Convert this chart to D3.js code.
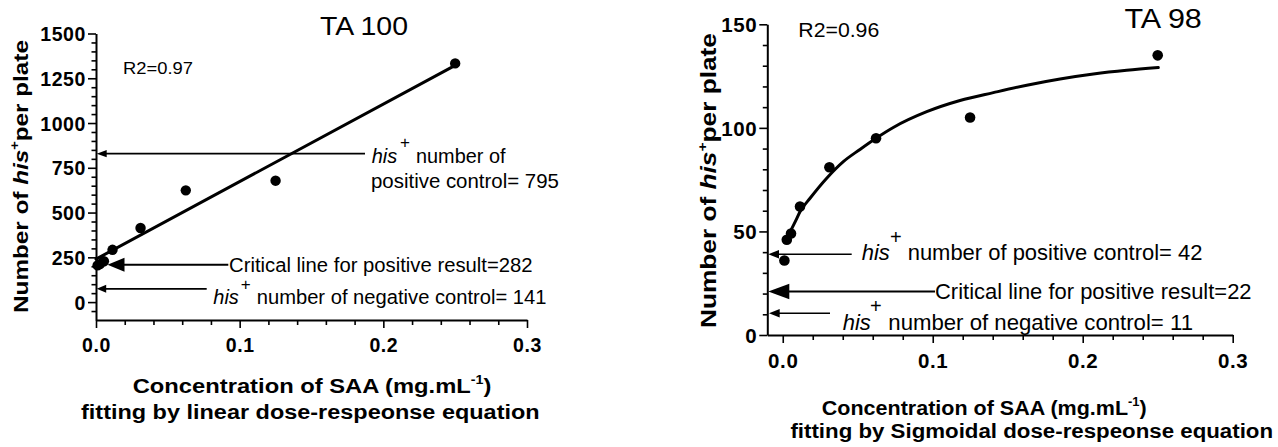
<!DOCTYPE html>
<html><head><meta charset="utf-8">
<script src="https://cdn.jsdelivr.net/npm/d3@7"></script>
<style>
body{margin:0;background:#fff}
svg{display:block}
text{font-family:"Liberation Sans",Arial,Helvetica,sans-serif;fill:#000}
</style>
</head><body>
<svg id="c" width="1278" height="447"></svg>
<script>
// ================= DATA =================
// TA 100 (left panel)
const ta100Conc  = [0.0011, 0.0027, 0.0055, 0.0115, 0.031, 0.0625, 0.125, 0.25];
const ta100Count = [205, 212, 228, 292, 414, 624, 678, 1333];
const ta100FitConc  = [0, 0.25];
const ta100FitCount = [240, 1322];
const ta100XTicks = [0, 0.1, 0.2, 0.3];
const ta100YTicks = [0, 250, 500, 750, 1000, 1250, 1500];
const ta100ArrowLevels = [829, 208, 74];   // positive control, critical line, negative control

// TA 98 (right panel)
const ta98Conc  = [0.0011, 0.0027, 0.0055, 0.0115, 0.0311, 0.0622, 0.1249, 0.25];
const ta98Count = [36, 46, 49, 62, 81, 95, 105, 135];
const ta98FitConc  = [0.004, 0.0085, 0.0115, 0.0182, 0.0293, 0.0404, 0.0515, 0.0622, 0.0737, 0.096, 0.1182, 0.1404, 0.1627, 0.1849, 0.2071, 0.2293, 0.2504];
const ta98FitCount = [48.5, 55, 59.5, 66, 75.7, 83.7, 89.6, 95, 100.2, 107.8, 113.2, 117.0, 120.6, 123.6, 126.0, 127.8, 129.1];
const ta98XTicks = [0, 0.1, 0.2, 0.3];
const ta98YTicks = [0, 50, 100, 150];
const ta98ArrowLevels = [39, 21, 10.5];

// Texts
const panelTitles = ["TA 100", "TA 98"];
const r2Labels = ["R2=0.97", "R2=0.96"];
const yTitleParts = ["Number of ", "his", "+", "per plate"];
const xTitle1Parts = ["Concentration of SAA (mg.mL", "-1", ")"];
const xTitle2 = ["fitting by linear dose-respeonse equation", "fitting by Sigmoidal dose-respeonse equation"];
const hisWord = "his", plusSign = "+";
const ta100PosLines = ["number of", "positive control= 795"];
const ta100Critical = "Critical line for positive result=282";
const ta100Neg = "number of negative control= 141";
const ta98Pos = "number of positive control= 42";
const ta98Critical = "Critical line for positive result=22";
const ta98Neg = "number of negative control= 11";

// ================= DRAWING =================
const svg = d3.select('#c');

function addText(parent, o, build) {
  const t = parent.append('text').attr('x', 0).attr('y', 0)
    .attr('font-size', o.size).style('font-size', o.size + 'px')
    .style('font-weight', o.bold ? 'bold' : 'normal')
    .style('font-style', o.italic ? 'italic' : 'normal');
  if (o.anchor) t.attr('text-anchor', o.anchor);
  if (build) build(t); else t.text(o.text);
  let s = 1;
  if (o.w) { const w = t.node().getBBox().width; if (w > 0) s = o.w / w; }
  const rot = o.rotate ? ` rotate(${o.rotate})` : '';
  t.attr('transform', `translate(${o.x},${o.y})${rot} scale(${s},1)`);
  return t;
}

function yTitle(parent, o) {
  addText(parent, Object.assign({bold: true, anchor: 'middle', rotate: -90}, o), t => {
    t.append('tspan').text(yTitleParts[0]);
    t.append('tspan').style('font-style', 'italic').text(yTitleParts[1]);
    t.append('tspan').style('font-size', (o.size * 0.6) + 'px').attr('dy', -o.size * 0.42).text(yTitleParts[2]);
    t.append('tspan').attr('dy', o.size * 0.42).text(yTitleParts[3]);
  });
}

function xTitle1(parent, o) {
  addText(parent, Object.assign({bold: true}, o), t => {
    t.append('tspan').text(xTitle1Parts[0]);
    t.append('tspan').style('font-size', (o.size * 0.6) + 'px').attr('dy', -o.size * 0.42).text(xTitle1Parts[1]);
    t.append('tspan').attr('dy', o.size * 0.42).text(xTitle1Parts[2]);
  });
}

function arrow(parent, y, x1, tip, len, hw, sw) {
  parent.append('line').attr('x1', tip + len - 1).attr('x2', x1).attr('y1', y).attr('y2', y)
    .attr('stroke', '#000').attr('stroke-width', sw);
  parent.append('path')
    .attr('d', `M${tip},${y}L${tip + len},${y - hw}L${tip + len},${y + hw}Z`)
    .attr('fill', '#000');
}

function panel(cfg) {
  const g = svg.append('g');
  const x = d3.scaleLinear().domain(cfg.xDomain).range(cfg.xRange);
  const y = d3.scaleLinear().domain(cfg.yDomain).range(cfg.yRange);
  const xAxisY = cfg.yRange[0], yAxisX = cfg.xRange[0];

  // minor ticks
  const xMinor = d3.range(0, 0.30001, 0.02).filter(v => !cfg.xTicks.some(m => Math.abs(m - v) < 1e-9));
  const yMinor = d3.range(cfg.yMinorStart, cfg.yDomain[1] + 1e-9, cfg.yMinorStep).filter(v => !cfg.yTicks.some(m => Math.abs(m - v) < 1e-9));
  const gxm = g.append('g').attr('transform', `translate(0,${xAxisY})`)
    .call(d3.axisBottom(x).tickValues(xMinor).tickSize(5).tickFormat(''));
  const gym = g.append('g').attr('transform', `translate(${yAxisX},0)`)
    .call(d3.axisLeft(y).tickValues(yMinor).tickSize(4.5).tickFormat(''));
  [gxm, gym].forEach(a => { a.select('.domain').remove(); a.selectAll('line').attr('stroke-width', 1.6); });

  // major axes
  const gx = g.append('g').attr('transform', `translate(0,${xAxisY})`)
    .call(d3.axisBottom(x).tickValues(cfg.xTicks).tickSize(8).tickSizeOuter(0).tickFormat(d3.format('.1f')));
  const gy = g.append('g').attr('transform', `translate(${yAxisX},0)`)
    .call(d3.axisLeft(y).tickValues(cfg.yTicks).tickSize(8).tickSizeOuter(0).tickPadding(2).tickFormat(d3.format('d')));
  [gx, gy].forEach(a => {
    a.attr('font-family', '"Liberation Sans",Arial,sans-serif').attr('font-size', cfg.labelSize).attr('font-weight', 'bold');
    a.select('.domain').attr('stroke-width', 2);
    a.selectAll('line').attr('stroke-width', 1.6);
    a.selectAll('text')
      .attr('font-size', cfg.labelSize)
      .style('font-size', cfg.labelSize + 'px')
      .style('font-weight', 'bold')
      .style('letter-spacing', cfg.labelSpacing + 'px')
      .attr('fill', '#000');
  });
  gx.selectAll('text').attr('y', cfg.xLabelDy).attr('dy', null);
  gy.selectAll('text').attr('dy', '0.36em');

  // fit line
  const line = d3.line().x(d => x(d[0])).y(d => y(d[1])).curve(cfg.curve);
  g.append('path').datum(d3.zip(cfg.fitX, cfg.fitY)).attr('d', line)
    .attr('fill', 'none').attr('stroke', '#000').attr('stroke-width', 3).attr('stroke-linecap', 'round');

  // points
  g.selectAll('circle.pt').data(d3.zip(cfg.ptX, cfg.ptY)).join('circle')
    .attr('cx', d => x(d[0])).attr('cy', d => y(d[1])).attr('r', cfg.r).attr('fill', '#000');

  // arrows
  cfg.arrows.forEach((a, i) => arrow(g, y(cfg.levels[i]), a.x1, a.tip, a.len, a.hw, a.sw));

  return {g, x, y};
}

// ---------- left panel: TA 100 ----------
const L = panel({
  xDomain: [0, 0.3], xRange: [96, 527],
  yDomain: [-100, 1500], yRange: [320, 33.5],
  xTicks: ta100XTicks, yTicks: ta100YTicks, yMinorStart: -50, yMinorStep: 50,
  labelSize: 19.5, labelSpacing: 0.6, xLabelDy: 32,
  fitX: ta100FitConc, fitY: ta100FitCount, curve: d3.curveLinear,
  ptX: ta100Conc, ptY: ta100Count, r: 5.2,
  levels: ta100ArrowLevels,
  arrows: [
    {x1: 365, tip: 96.7, len: 10, hw: 3.6, sw: 1.6},
    {x1: 228.3, tip: 107.5, len: 17, hw: 7, sw: 2},
    {x1: 206.7, tip: 96.7, len: 9.5, hw: 4, sw: 1.6}
  ]
});
addText(L.g, {x: 320, y: 35, size: 25, w: 88, text: panelTitles[0]});
addText(L.g, {x: 123, y: 74, size: 17, w: 70, text: r2Labels[0]});
yTitle(L.g, {x: 28, y: 176.5, size: 21, w: 273});
xTitle1(L.g, {x: 132.7, y: 393, size: 21, w: 359});
addText(L.g, {x: 81, y: 419, size: 21, w: 459, bold: true, text: xTitle2[0]});
// annotations
addText(L.g, {x: 371.7, y: 163, size: 20, italic: true, text: hisWord});
addText(L.g, {x: 400, y: 147.7, size: 17, text: plusSign});
addText(L.g, {x: 416, y: 163, size: 20, w: 90, text: ta100PosLines[0]});
addText(L.g, {x: 371, y: 187.5, size: 20, w: 188, text: ta100PosLines[1]});
addText(L.g, {x: 229, y: 272, size: 20, w: 304, text: ta100Critical});
addText(L.g, {x: 213.3, y: 304.3, size: 20, italic: true, text: hisWord});
addText(L.g, {x: 240.7, y: 290.3, size: 17, text: plusSign});
addText(L.g, {x: 256.7, y: 304.3, size: 20, w: 290, text: ta100Neg});

// ---------- right panel: TA 98 ----------
const R = panel({
  xDomain: [-0.0103, 0.3], xRange: [767.3, 1232.7],
  yDomain: [0, 150], yRange: [335, 24.3],
  xTicks: ta98XTicks, yTicks: ta98YTicks, yMinorStart: 10, yMinorStep: 10,
  labelSize: 20.5, labelSpacing: 0.6, xLabelDy: 33,
  fitX: ta98FitConc, fitY: ta98FitCount, curve: d3.curveMonotoneX,
  ptX: ta98Conc, ptY: ta98Count, r: 5.3,
  levels: ta98ArrowLevels,
  arrows: [
    {x1: 851.7, tip: 768.3, len: 10.7, hw: 4.3, sw: 1.6},
    {x1: 935, tip: 768.3, len: 21, hw: 7.8, sw: 2},
    {x1: 830, tip: 769, len: 10.7, hw: 4.3, sw: 1.6}
  ]
});
addText(R.g, {x: 1124.4, y: 28, size: 27, w: 77.5, text: panelTitles[1]});
addText(R.g, {x: 798.3, y: 36.7, size: 21, w: 81, text: r2Labels[1]});
yTitle(R.g, {x: 716, y: 180.5, size: 22, w: 295});
xTitle1(R.g, {x: 821.8, y: 415, size: 21, w: 325});
addText(R.g, {x: 790.4, y: 438, size: 21, w: 483, bold: true, text: xTitle2[1]});
addText(R.g, {x: 861.7, y: 260, size: 22, italic: true, text: hisWord});
addText(R.g, {x: 890, y: 243.5, size: 20, text: plusSign});
addText(R.g, {x: 907.7, y: 260, size: 22, w: 295, text: ta98Pos});
addText(R.g, {x: 935, y: 299, size: 22, w: 316.7, text: ta98Critical});
addText(R.g, {x: 842.7, y: 330, size: 22, italic: true, text: hisWord});
addText(R.g, {x: 870, y: 312.6, size: 20, text: plusSign});
addText(R.g, {x: 888.3, y: 330, size: 22, w: 305, text: ta98Neg});
</script>
</body></html>
